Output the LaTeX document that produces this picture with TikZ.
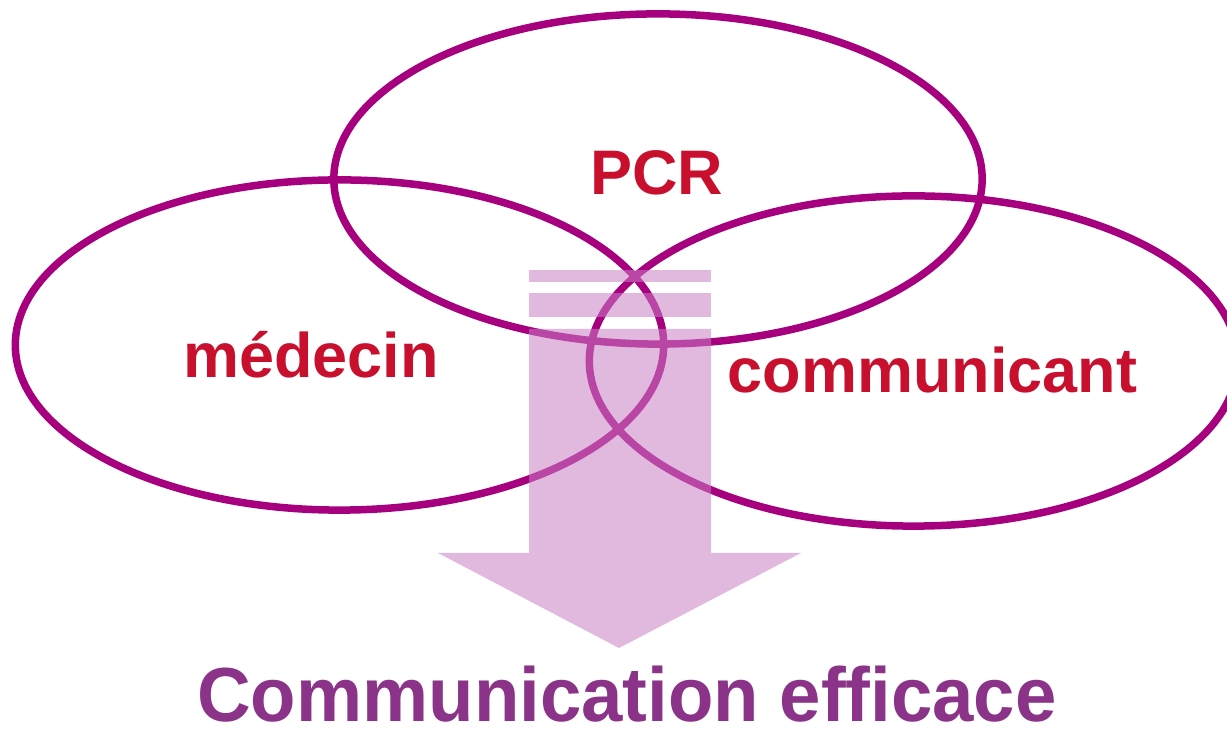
\documentclass[tikz,border=0pt]{standalone}
\usepackage{fontspec}
\setmainfont{Liberation Sans}
\usetikzlibrary{shapes.geometric}
\definecolor{ringcol}{HTML}{A6007E}
\definecolor{labelcol}{HTML}{C8102E}
\definecolor{arrowcol}{HTML}{C97FC4}
\definecolor{goalcol}{HTML}{8B3388}
\begin{document}
\begin{tikzpicture}[x=0.01cm, y=-0.01cm,
ring/.style = {ellipse, draw=ringcol, line width=0.075cm, inner sep=0pt,
  minimum width=6.48cm, minimum height=3.30cm},
lbl/.style = {text=labelcol, font=\bfseries\fontsize{17.9pt}{20pt}\selectfont,
  inner sep=0pt, anchor=base},
banner/.style = {fill=arrowcol, fill opacity=0.55, draw=none}]
\useasboundingbox (0,0) rectangle (1227,734);
\node[ring] (pcr) at (658,179) {};
\node[ring] (med) at (339.5,345) {};
\node[ring] (com) at (913.5,361) {};
\fill[banner] (529,270) rectangle (711,282);
\fill[banner] (529,293) rectangle (711,317);
\fill[banner] (529,329) -- (711,329) -- (711,553) -- (801,553) -- (619,648)
  -- (438,553) -- (529,553) -- cycle;
\node[lbl] (pcrtxt) at (657,195) {PCR};
\node[lbl] (medtxt) at (311,378) {médecin};
\node[lbl] (comtxt) at (932.5,393) {communicant};
\node[text=goalcol, font=\bfseries\fontsize{21.8pt}{24pt}\selectfont,
  inner sep=0pt, anchor=base, xscale=0.97] (goal) at (627,722)
  {Communication efficace};
\end{tikzpicture}
\end{document}
